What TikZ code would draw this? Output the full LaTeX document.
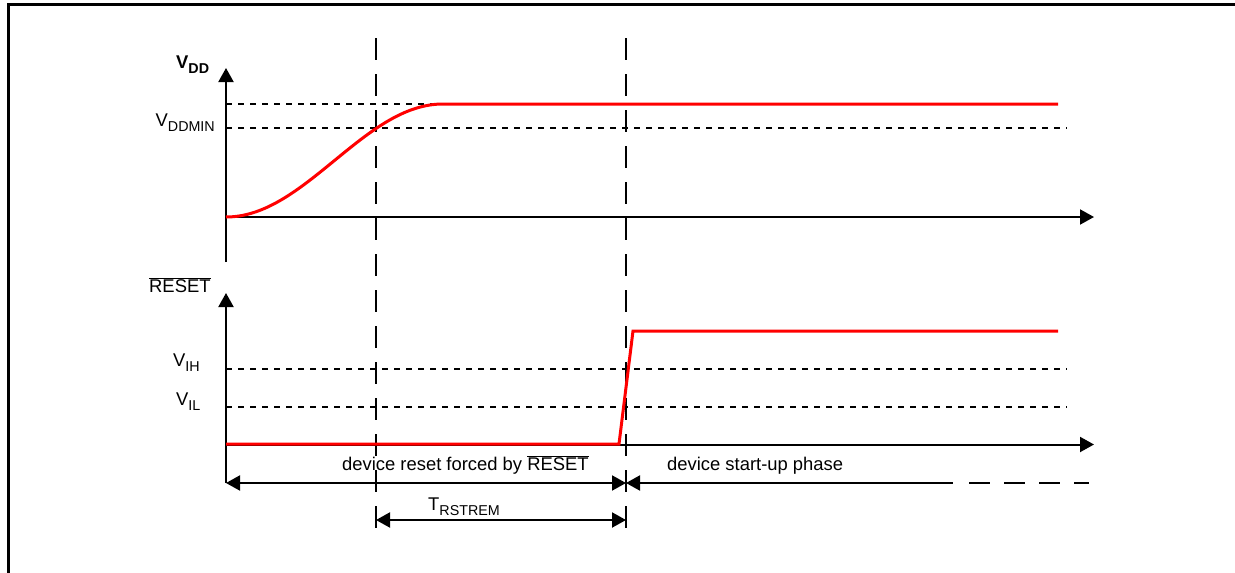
\documentclass[tikz,border=0pt]{standalone}
\usepackage{fontspec}
\setmainfont{Liberation Sans}
\usetikzlibrary{arrows.meta}
\newcommand{\lowsub}[1]{\raisebox{-5pt}{\fontsize{14.3}{15}\selectfont #1}}
\begin{document}
\begin{tikzpicture}[x=1pt,y=-1pt,
  frameline/.style={line width=2.7pt},
  axisline/.style={line width=2pt,-{Triangle[length=14pt,width=15pt]}},
  level/.style={line width=2pt,dash pattern=on 6pt off 6pt},
  marker/.style={line width=2pt,dash pattern=on 22pt off 14pt},
  signal/.style={red,line width=3pt},
  dimboth/.style={line width=2pt,{Triangle[length=14pt,width=15pt]}-{Triangle[length=14pt,width=15pt]}},
  dimleft/.style={line width=2pt,{Triangle[length=14pt,width=15pt]}-},
  dimdash/.style={line width=2pt,dash pattern=on 21pt off 14pt},
  lbl/.style={font=\fontsize{18.4}{21}\selectfont,inner sep=0pt}]
\useasboundingbox (0,0) rectangle (1235,573);
% frame
\coordinate (fr1) at (8.7,573);
\coordinate (fr2) at (8.7,4.7);
\coordinate (fr3) at (1235,4.7);
\draw[frameline] (fr1) -- (fr2) -- (fr3);
% level lines
\coordinate (l1a) at (226,104); \coordinate (l1b) at (1050,104);
\coordinate (l2a) at (226,127.5); \coordinate (l2b) at (1067,127.5);
\coordinate (l3a) at (226,369); \coordinate (l3b) at (1067,369);
\coordinate (l4a) at (226,407); \coordinate (l4b) at (1067,407);
\draw[level] (l1a) -- (l1b);
\draw[level] (l2a) -- (l2b);
\draw[level] (l3a) -- (l3b);
\draw[level] (l4a) -- (l4b);
% markers
\coordinate (m1t) at (376,38); \coordinate (m1b) at (376,533);
\coordinate (m2t) at (626,38); \coordinate (m2b) at (626,533);
\draw[marker] (m1t) -- (m1b);
\draw[marker] (m2t) -- (m2b);
% axes
\coordinate (v1b) at (226,262); \coordinate (v1t) at (226,68);
\coordinate (h1l) at (226,217); \coordinate (h1r) at (1094,217);
\coordinate (v2b) at (226,483); \coordinate (v2t) at (226,293);
\coordinate (h2l) at (226,444.5); \coordinate (h2r) at (1094,444.5);
\draw[axisline] (v1b) -- (v1t);
\draw[axisline] (h1l) -- (h1r);
\draw[axisline] (v2b) -- (v2t);
\draw[axisline] (h2l) -- (h2r);
% signals
\coordinate (vddend) at (1058,104);
\draw[signal] plot[domain=0:1,samples=80,smooth] ({226+217*\x},{217-113*(1-cos(180*\x))/2}) -- (vddend);
\coordinate (r1) at (226,444); \coordinate (r2) at (619,444);
\coordinate (r3) at (633,331); \coordinate (r4) at (1058,331);
\draw[signal] (r1) -- (r2) -- (r3) -- (r4);
% dimension arrows
\coordinate (d1l) at (226,483); \coordinate (d1m) at (626,483);
\coordinate (d1s) at (953,483); \coordinate (d1d) at (969,483);
\coordinate (d1e) at (1089,483);
\draw[dimboth] (d1l) -- (d1m);
\draw[dimleft] (d1m) -- (d1s);
\draw[dimdash] (d1d) -- (d1e);
\coordinate (t1) at (376,520); \coordinate (t2) at (626,520);
\draw[dimboth] (t1) -- (t2);
% labels
\node[lbl,anchor=base west] (lvdd) at (176,68) {\textbf{V\lowsub{\textbf{DD}}}};
\node[lbl,anchor=base east] (lvddmin) at (215,126) {V\lowsub{DDMIN}};
\node[lbl,anchor=base west] (lreset) at (149,292) {$\overline{\mbox{RESET}}$};
\node[lbl,anchor=base west] (lvih) at (173,366) {V\lowsub{IH}};
\node[lbl,anchor=base west] (lvil) at (176,405) {V\lowsub{IL}};
\node[lbl,anchor=base west] (lforced) at (342,470) {device reset forced by $\overline{\mbox{RESET}}$};
\node[lbl,anchor=base west] (lstart) at (667,470) {device start-up phase};
\node[lbl,anchor=base west] (ltr) at (428,510) {T\lowsub{RSTREM}};
\end{tikzpicture}
\end{document}
